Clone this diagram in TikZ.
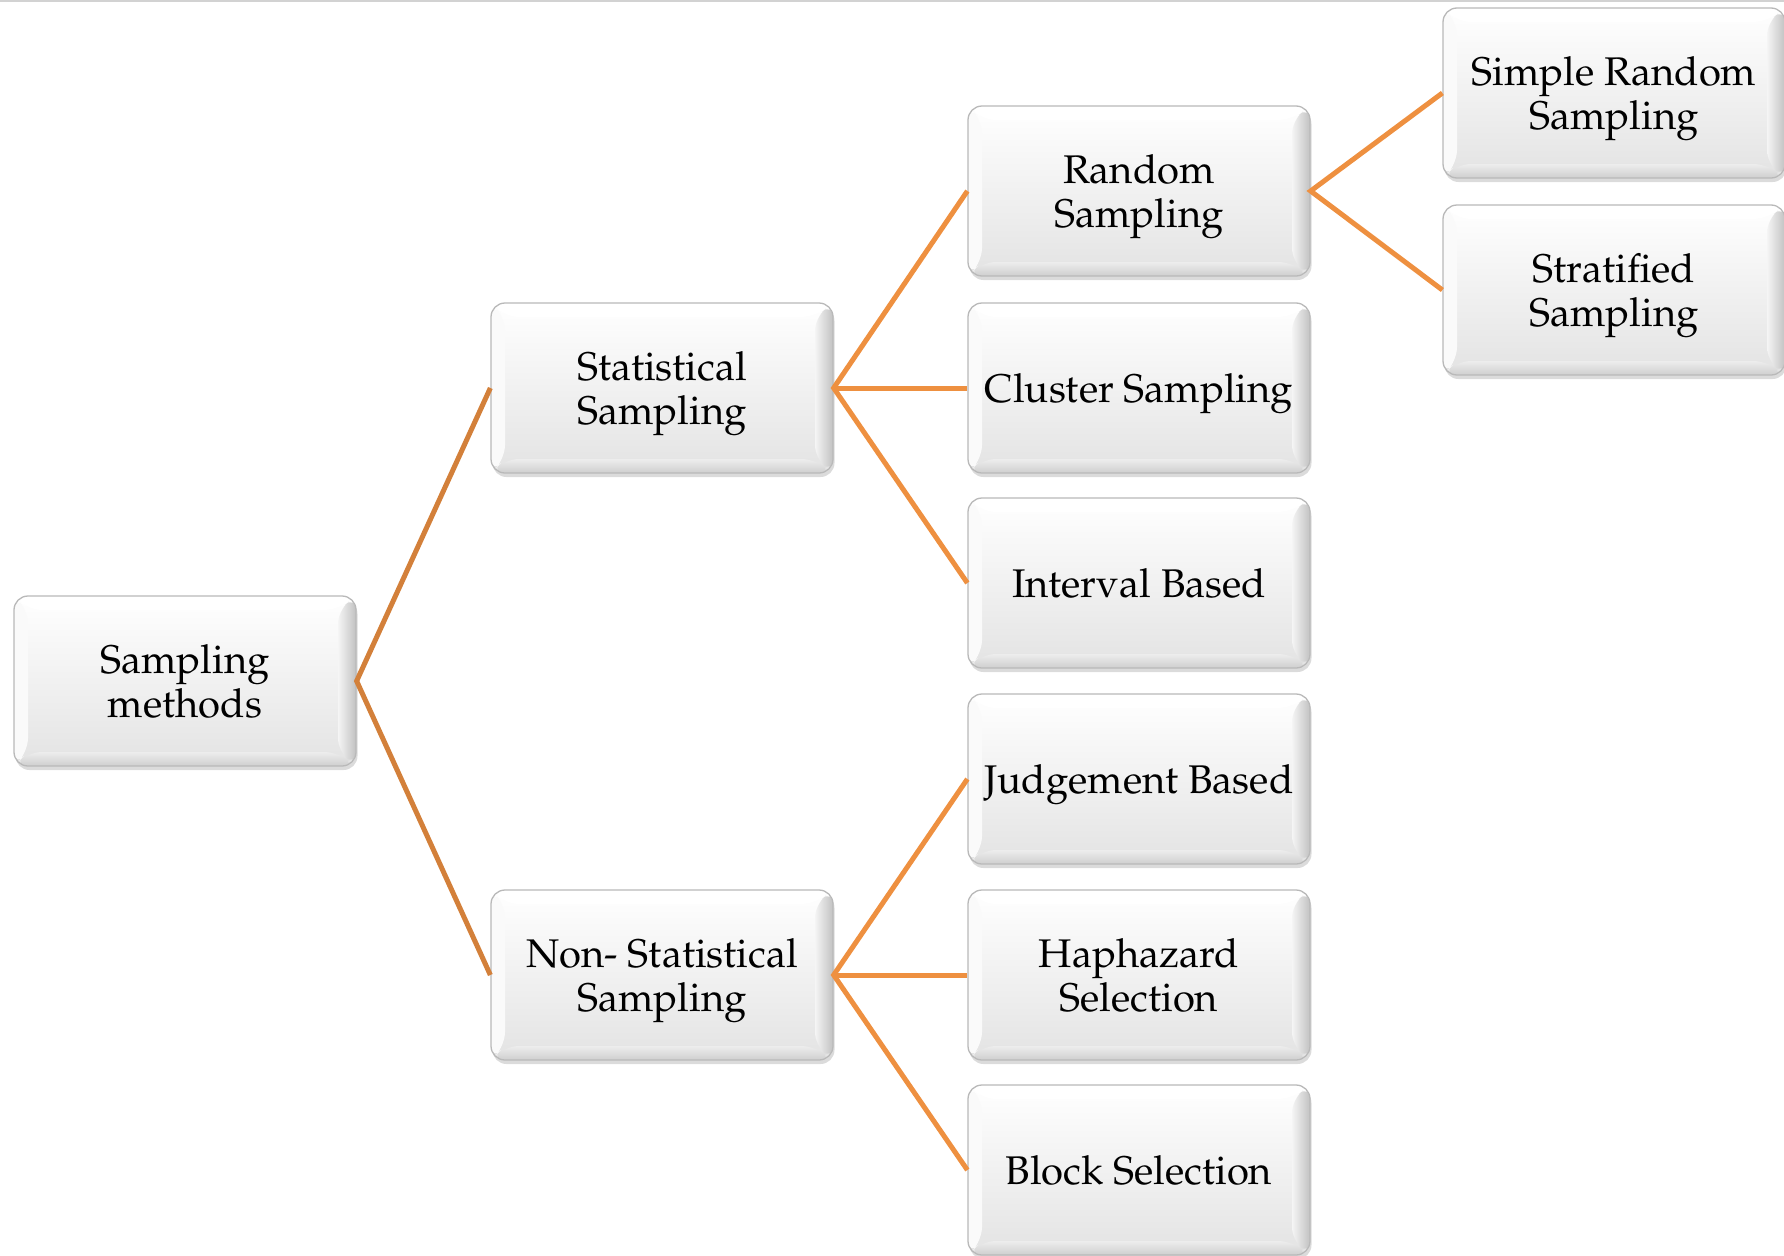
\documentclass[tikz,border=0pt]{standalone}
\usepackage[T1]{fontenc}
\usepackage{mathpazo}
\usetikzlibrary{shadows}
\definecolor{linkdark}{HTML}{D3803A}
\definecolor{linklight}{HTML}{EE9040}
\tikzset{
  card/.style={
    rectangle, rounded corners=14pt,
    minimum width=342pt, minimum height=170pt,
    inner sep=0pt, align=center, text depth=0pt,
    draw=gray!55, line width=1.3pt,
    top color=white, bottom color=gray!22,
    font=\fontsize{40}{44}\selectfont,
    drop shadow={shadow xshift=1.5pt, shadow yshift=-4pt, opacity=0.35, fill=gray!80},
    path picture={
      % bevel bands around the face
      \path (path picture bounding box.north west) coordinate (pnw)
            (path picture bounding box.north east) coordinate (pne)
            (path picture bounding box.south west) coordinate (psw)
            (path picture bounding box.south east) coordinate (pse);
      \shade[left color=gray!8, right color=gray!48]
        ([xshift=-18pt,yshift=-14pt]pne) -- (pne) -- (pse) -- ([xshift=-18pt,yshift=14pt]pse) -- cycle;
      \shade[top color=gray!14, bottom color=gray!38]
        ([xshift=14pt,yshift=14pt]psw) -- ([xshift=-18pt,yshift=14pt]pse) -- (pse) -- (psw) -- cycle;
      \fill[white!96!gray]
        (pnw) -- ([xshift=14pt,yshift=-14pt]pnw) -- ([xshift=14pt,yshift=14pt]psw) -- (psw) -- cycle;
      \fill[white]
        (pnw) -- (pne) -- ([xshift=-18pt,yshift=-14pt]pne) -- ([xshift=14pt,yshift=-14pt]pnw) -- cycle;
    }
  },
  linkA/.style={draw=linkdark, line width=5pt, line join=miter},
  linkB/.style={draw=linklight, line width=5pt, line join=miter}
}
\begin{document}
\begin{tikzpicture}[x=1pt, y=-1pt]
  \useasboundingbox (0,0) rectangle (1784,1255);
  % faint rule along the upper edge
  \fill[gray!35] (0,0) rectangle (1784,2.5);

  % level 0
  \node[card] (root) at (185,681) {Sampling\\methods};
  % level 1
  \node[card] (stat) at (662,388) {Statistical\\Sampling};
  \node[card] (nonstat) at (662,975) {Non- Statistical\\Sampling};
  % level 2
  \node[card] (random) at (1139,191) {Random\\Sampling};
  \node[card] (cluster) at (1139,388) {Cluster Sampling};
  \node[card] (interval) at (1139,583) {Interval Based};
  \node[card] (judge) at (1139,779) {Judgement Based};
  \node[card] (hap) at (1139,975) {Haphazard\\Selection};
  \node[card] (block) at (1139,1170) {Block Selection};
  % level 3
  \node[card] (simple) at (1614,93) {Simple Random\\Sampling};
  \node[card] (strat) at (1614,290) {Stratified\\Sampling};

  % connectors
  \draw[linkA] (stat.west) -- (root.east) -- (nonstat.west);
  \draw[linkB] (random.west) -- (stat.east) -- (interval.west);
  \draw[linkB] (stat.east) -- (cluster.west);
  \draw[linkB] (judge.west) -- (nonstat.east) -- (block.west);
  \draw[linkB] (nonstat.east) -- (hap.west);
  \draw[linkB] (simple.west) -- (random.east) -- (strat.west);
\end{tikzpicture}
\end{document}
